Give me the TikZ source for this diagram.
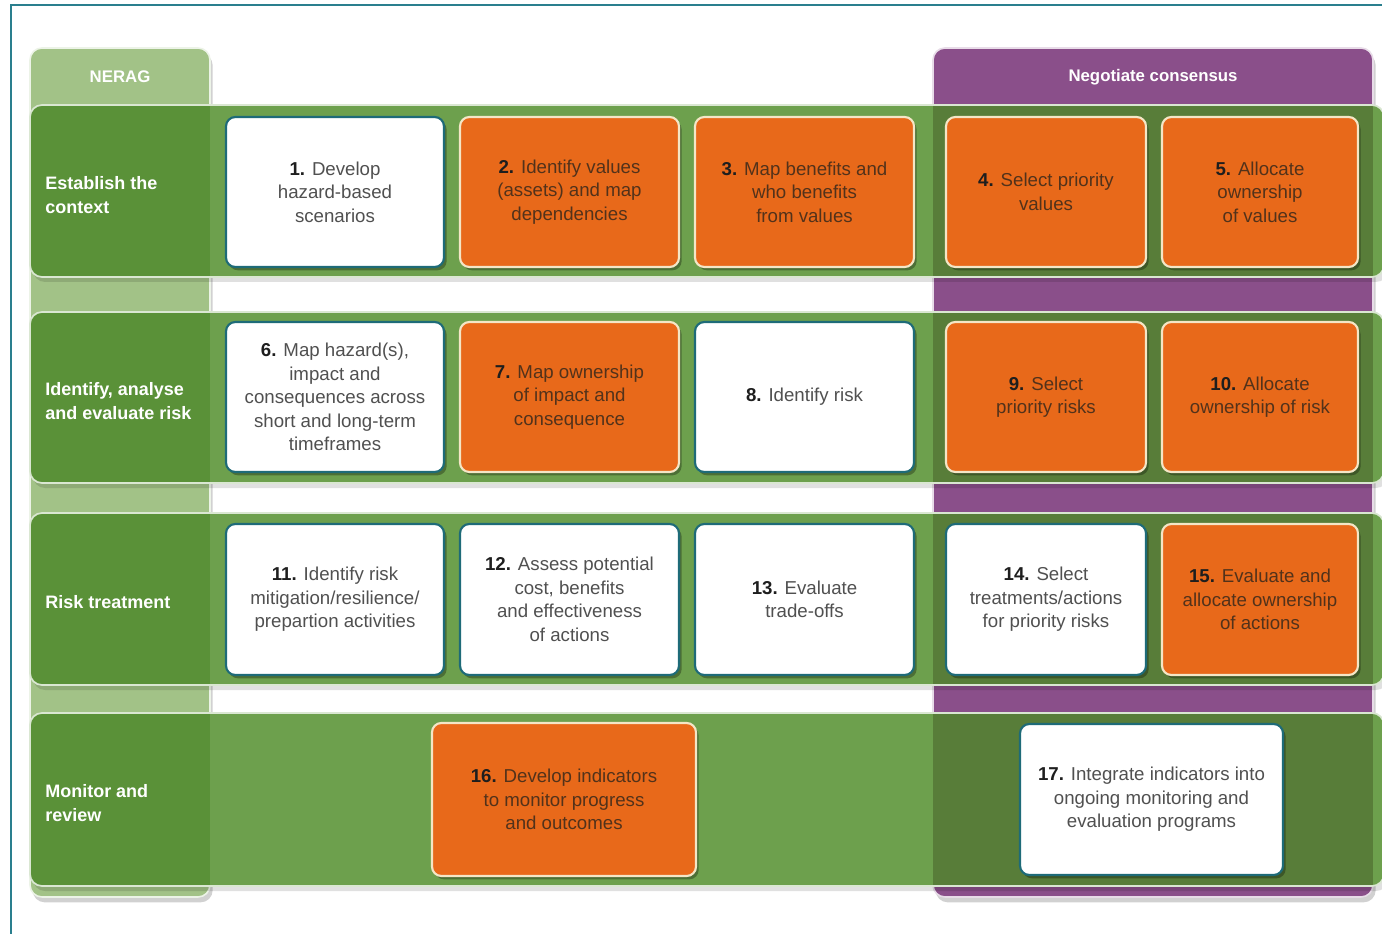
\documentclass[tikz,border=0pt]{standalone}
\usepackage{fontspec}
\setmainfont{Liberation Sans}
\usetikzlibrary{shadows}
\definecolor{frame}{HTML}{2A7F8E}
\definecolor{palegreen}{HTML}{A2C287}
\definecolor{labelgreen}{HTML}{5A9138}
\definecolor{bandgreen}{HTML}{6DA04D}
\definecolor{overpurple}{HTML}{587D39}
\definecolor{purplecol}{HTML}{8A4F8A}
\definecolor{orangebox}{HTML}{E8691A}
\definecolor{teal}{HTML}{1E6B78}
\definecolor{cream}{HTML}{F4E6C6}
\definecolor{wtext}{HTML}{505050}
\definecolor{otext}{HTML}{52321A}
\definecolor{numc}{HTML}{1E1E1E}
\newcommand\nb[1]{{\bfseries\color{numc}#1}}
\newcommand\bx[7]{\node[#2, minimum width={(#5-#3)*0.75pt}, minimum height={(#6-#4)*0.75pt}] (#1) at ({(#3+#5)/2},{(#4+#6)/2}) {#7};}
\begin{document}
\begin{tikzpicture}[x=0.75pt,y=-0.75pt,
  boxbase/.style={rounded corners=7pt, line width=1.6pt, align=center, inner sep=0pt,
    font=\fontsize{14}{17.6}\selectfont,
    drop shadow={shadow xshift=2pt, shadow yshift=-2.5pt, opacity=0.3, fill=black}},
  wbox/.style={boxbase, fill=white, draw=teal, text=wtext},
  obox/.style={boxbase, fill=orangebox, draw=cream, text=otext},
  rowlabel/.style={anchor=west, align=left, text=white, font=\bfseries\fontsize{13.5}{17.8}\selectfont, inner sep=0pt},
  colhead/.style={text=white, font=\bfseries\fontsize{12.6}{16}\selectfont},
  coledge/.style={draw=white!80!palegreen, line width=1.2pt},
  bandedge/.style={draw=white!75!bandgreen, line width=1.3pt}
]
\useasboundingbox (0,0) rectangle (1382,934);
\fill[white] (0,0) rectangle (1382,934);
\draw[frame, line width=1.8pt] (11,940) -- (11,5) -- (1390,5);

% columns
\fill[palegreen, rounded corners=9pt, coledge,
  drop shadow={shadow xshift=2pt, shadow yshift=-4pt, opacity=0.18, fill=black}] (30,48) rectangle (210,897);
\node[colhead] (nerag) at (120,77) {NERAG};
\fill[purplecol, rounded corners=9pt, draw=white!80!purplecol, line width=1.2pt,
  drop shadow={shadow xshift=2pt, shadow yshift=-4pt, opacity=0.18, fill=black}] (933,48) rectangle (1373,897);
\node[colhead] (nego) at (1153,77) {Negotiate consensus};

% bands
\foreach \ya/\yb in {105/277, 312/483, 513/685, 713/886}{
  \fill[black, opacity=0.12, rounded corners=9pt] (33,\ya+5) rectangle (1388,\yb+5);
  \begin{scope}
    \clip[rounded corners=9pt] (30,\ya) rectangle (1384,\yb);
    \fill[bandgreen] (30,\ya) rectangle (1384,\yb);
    \fill[labelgreen] (30,\ya) rectangle (210,\yb);
    \fill[overpurple] (933,\ya) rectangle (1373,\yb);
  \end{scope}
  \draw[bandedge, rounded corners=9pt] (30,\ya) rectangle (1384,\yb);
}

% row labels
\node[rowlabel] (r1) at (45,195) {Establish the\\context};
\node[rowlabel] (r2) at (45,401) {Identify, analyse\\and evaluate risk};
\node[rowlabel] (r3) at (45,602) {Risk treatment};
\node[rowlabel] (r4) at (45,803) {Monitor and\\review};

% row 1
\bx{b1}{wbox}{226}{117}{444}{267}{\nb{1.} Develop\\hazard-based\\scenarios}
\bx{b2}{obox}{460}{117}{679}{267}{\nb{2.} Identify values\\(assets) and map\\dependencies}
\bx{b3}{obox}{695}{117}{914}{267}{\nb{3.} Map benefits and\\who benefits\\from values}
\bx{b4}{obox}{946}{117}{1146}{267}{\nb{4.} Select priority\\values}
\bx{b5}{obox}{1162}{117}{1358}{267}{\nb{5.} Allocate\\ownership\\of values}
% row 2
\bx{b6}{wbox}{226}{322}{444}{472}{\nb{6.} Map hazard(s),\\impact and\\consequences across\\short and long-term\\timeframes}
\bx{b7}{obox}{460}{322}{679}{472}{\nb{7.} Map ownership\\of impact and\\consequence}
\bx{b8}{wbox}{695}{322}{914}{472}{\nb{8.} Identify risk}
\bx{b9}{obox}{946}{322}{1146}{472}{\nb{9.} Select\\priority risks}
\bx{b10}{obox}{1162}{322}{1358}{472}{\nb{10.} Allocate\\ownership of risk}
% row 3
\bx{b11}{wbox}{226}{524}{444}{675}{\nb{11.} Identify risk\\mitigation/resilience/\\prepartion activities}
\bx{b12}{wbox}{460}{524}{679}{675}{\nb{12.} Assess potential\\cost, benefits\\and effectiveness\\of actions}
\bx{b13}{wbox}{695}{524}{914}{675}{\nb{13.} Evaluate\\trade-offs}
\bx{b14}{wbox}{946}{524}{1146}{675}{\nb{14.} Select\\treatments/actions\\for priority risks}
\bx{b15}{obox}{1162}{524}{1358}{675}{\nb{15.} Evaluate and\\allocate ownership\\of actions}
% row 4
\bx{b16}{obox}{432}{723}{696}{876}{\nb{16.} Develop indicators\\to monitor progress\\and outcomes}
\bx{b17}{wbox}{1020}{724}{1283}{875}{\nb{17.} Integrate indicators into\\ongoing monitoring and\\evaluation programs}
\end{tikzpicture}
\end{document}
